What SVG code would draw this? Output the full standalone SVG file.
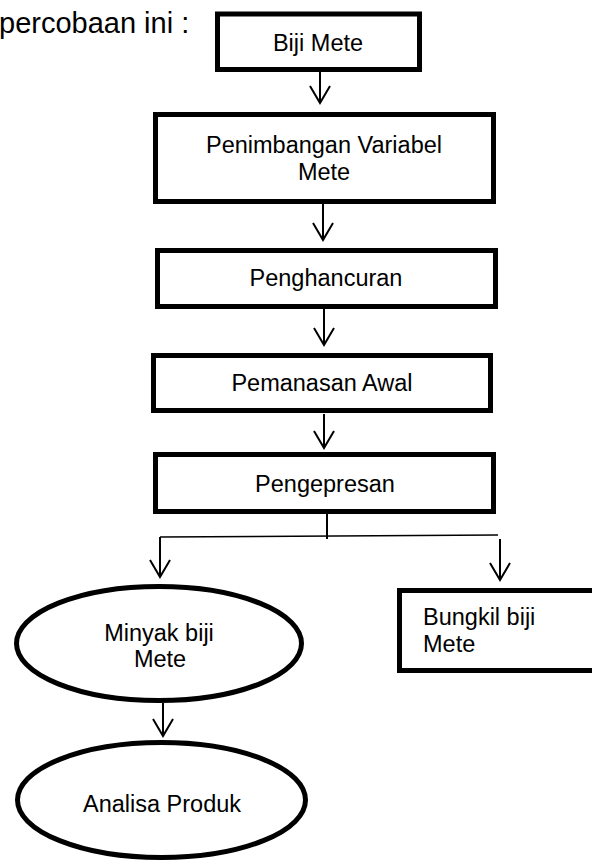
<svg xmlns="http://www.w3.org/2000/svg" width="592" height="863" viewBox="0 0 592 863">
<style>
  .box { fill: #ffffff; stroke: #000000; stroke-width: 5; }
  .t { font-family: "Liberation Sans", Arial, sans-serif; font-size: 23.5px; fill: #000000; }
  .c { text-anchor: middle; }
  .ln { fill: none; stroke: #000000; stroke-width: 2; }
  .thin { fill: none; stroke: #000000; stroke-width: 1.6; }
</style>
<defs>
  <marker id="ah" markerUnits="userSpaceOnUse" markerWidth="24" markerHeight="26" viewBox="-2 -2 22 26" refX="17" refY="10" orient="auto" overflow="visible">
    <path d="M0,0 L17,10 L0,20" fill="none" stroke="#000000" stroke-width="2"/>
  </marker>
</defs>
<rect width="592" height="863" fill="#ffffff"/>
<text class="t" x="-1" y="33" style="font-size:29px">percobaan ini :</text>

<g id="connectors">
  <line class="ln" x1="320" y1="72" x2="320" y2="103" marker-end="url(#ah)"/>
  <line class="ln" x1="323" y1="204" x2="323" y2="240" marker-end="url(#ah)"/>
  <line class="ln" x1="324" y1="309" x2="324" y2="345" marker-end="url(#ah)"/>
  <line class="ln" x1="324" y1="414" x2="324" y2="448" marker-end="url(#ah)"/>
  <line class="ln" x1="327" y1="514" x2="327" y2="539"/>
  <line class="thin" x1="160" y1="537" x2="498" y2="535"/>
  <line class="ln" x1="160" y1="537" x2="160" y2="577" marker-end="url(#ah)"/>
  <line class="ln" x1="500" y1="539" x2="500" y2="580" marker-end="url(#ah)"/>
  <line class="ln" x1="163" y1="703" x2="163" y2="736" marker-end="url(#ah)"/>
</g>

<g id="biji-mete">
  <rect class="box" x="217.5" y="14" width="202" height="55.5"/>
  <text class="t c" x="318" y="51">Biji Mete</text>
</g>
<g id="penimbangan">
  <rect class="box" x="155.5" y="114.5" width="338" height="87"/>
  <text class="t c" x="324" y="153">Penimbangan Variabel</text>
  <text class="t c" x="324" y="180">Mete</text>
</g>
<g id="penghancuran">
  <rect class="box" x="157.5" y="250.5" width="338" height="56"/>
  <text class="t c" x="326" y="286">Penghancuran</text>
</g>
<g id="pemanasan">
  <rect class="box" x="153.5" y="355.5" width="337" height="55"/>
  <text class="t c" x="322" y="391">Pemanasan Awal</text>
</g>
<g id="pengepresan">
  <rect class="box" x="155.5" y="454.5" width="338" height="57"/>
  <text class="t c" x="325" y="492">Pengepresan</text>
</g>
<g id="minyak">
  <ellipse class="box" cx="159" cy="643.5" rx="142.5" ry="57"/>
  <text class="t c" x="159" y="641">Minyak biji</text>
  <text class="t c" x="160" y="667">Mete</text>
</g>
<g id="bungkil">
  <rect class="box" x="399.5" y="590.5" width="212" height="80"/>
  <text class="t" x="423" y="625">Bungkil biji</text>
  <text class="t" x="423" y="652">Mete</text>
</g>
<g id="analisa">
  <ellipse class="box" cx="161.5" cy="800" rx="144" ry="57.5"/>
  <text class="t c" x="162" y="812">Analisa Produk</text>
</g>
</svg>
